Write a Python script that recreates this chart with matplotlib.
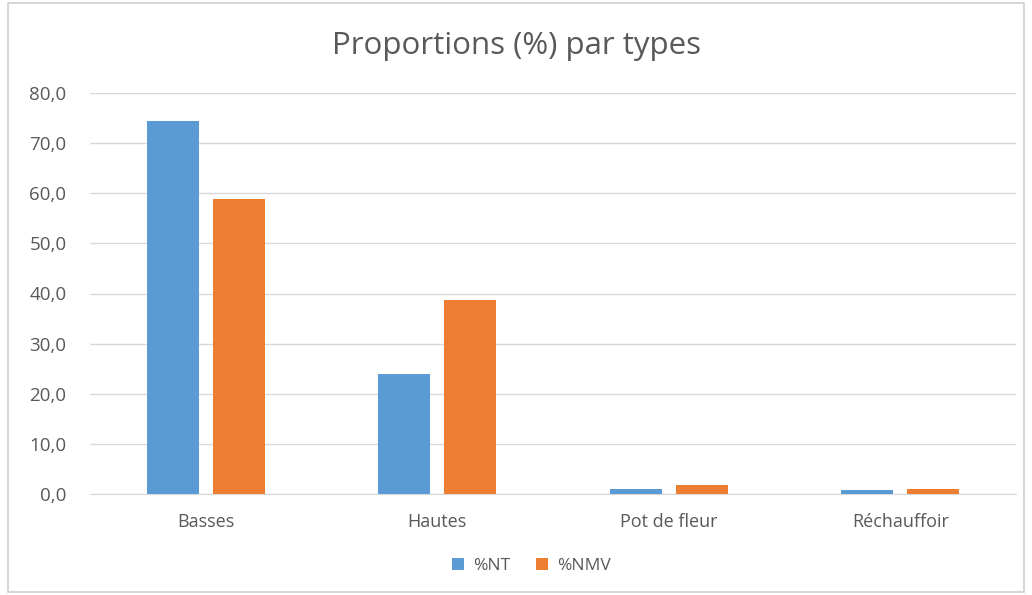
import matplotlib
matplotlib.use("Agg")
import matplotlib.pyplot as plt
import numpy as np
from matplotlib.patches import Rectangle

categories = ["Basses", "Hautes", "Pot de fleur", "Réchauffoir"]
nt_values = [74.4, 24.0, 1.0, 0.8]
nmv_values = [58.9, 38.7, 1.7, 1.0]
series_labels = ["%NT", "%NMV"]
yticks = [0, 10, 20, 30, 40, 50, 60, 70, 80]

plt.rcParams['font.family'] = ['Open Sans', 'DejaVu Sans']
txt = "#595959"
blue = "#5B9BD5"
orange = "#ED7D31"

fig = plt.figure(figsize=(10.32, 5.95), dpi=100)
ax = fig.add_axes([90/1032, 1-494/595, (1016-90)/1032, (494-93)/595])

x = np.arange(len(categories))
w = 0.225
gap = 0.06
ax.bar(x - (w+gap)/2, nt_values, w, color=blue, label=series_labels[0], zorder=3)
ax.bar(x + (w+gap)/2, nmv_values, w, color=orange, label=series_labels[1], zorder=3)

ax.set_xlim(-0.5, len(categories)-0.5)
ax.set_ylim(0, 80)
ax.set_yticks(yticks)
ax.set_yticklabels([f"{v:.1f}".replace(".", ",") for v in yticks], color=txt, fontsize=13.5)
ax.set_xticks(x)
ax.set_xticklabels(categories, color=txt, fontsize=13)
ax.tick_params(length=0, pad=14)
ax.tick_params(axis='y', pad=17)
ax.grid(axis='y', color="#D9D9D9", linewidth=1, zorder=0)
for s in ["top", "right", "left"]:
    ax.spines[s].set_visible(False)
ax.spines["bottom"].set_color("#D9D9D9")

fig.text(0.5, 1-46/595, "Proportions (%) par types", ha="center", va="center",
         fontsize=22.5, color=txt)
fig.legend(loc="center", bbox_to_anchor=(0.515, 1-566/595), ncol=2, frameon=False,
           fontsize=12.5, labelcolor=txt, handlelength=0.7, handleheight=0.7,
           columnspacing=1.5, handletextpad=0.5)

fig.patches.append(Rectangle((8/1032, 0.005), 1-16/1032, 0.99, transform=fig.transFigure,
                             fill=False, edgecolor="#D0D0D0", linewidth=1.2))
fig.savefig("out.png", dpi=100)
